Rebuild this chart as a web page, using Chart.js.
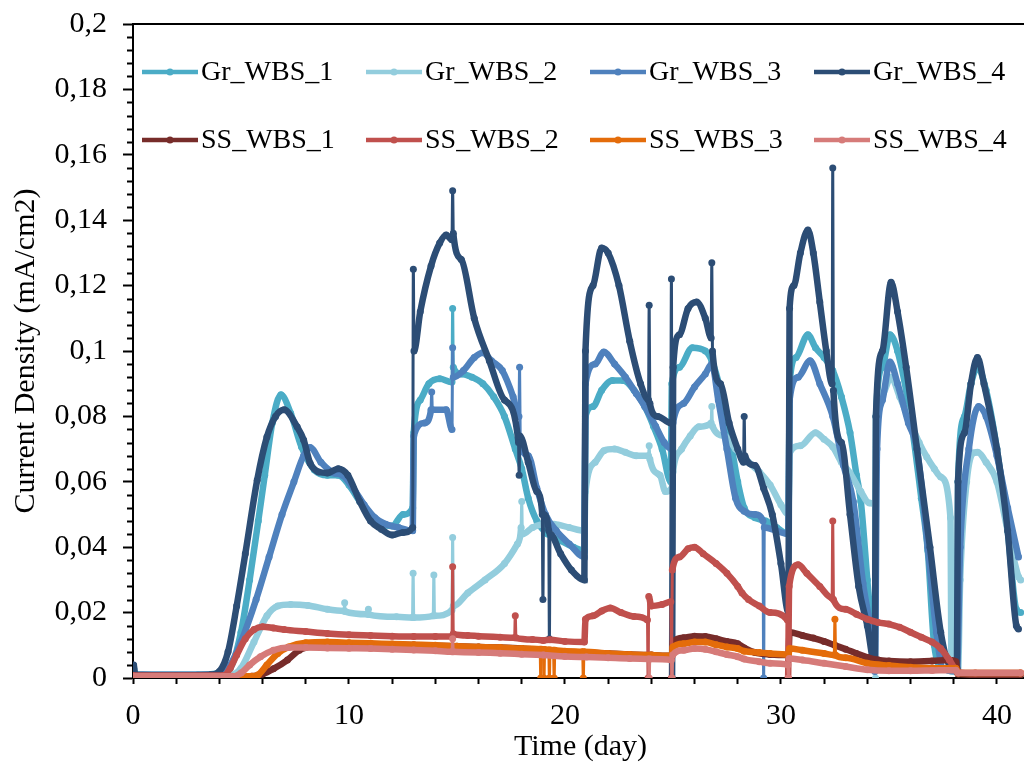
<!DOCTYPE html>
<html>
<head>
<meta charset="utf-8">
<script src="https://cdn.jsdelivr.net/npm/chart.js@4.4.1/dist/chart.umd.min.js"></script>
<style>
  html, body { margin: 0; background: #fff; overflow: hidden; }
  #wrap { width: 1032px; height: 769px; }
</style>
</head>
<body>
<div id="wrap"><canvas id="mycanvas" width="1032" height="769"></canvas></div>
<script>
// series names and colours
var seriesNames = ['Gr_WBS_1', 'Gr_WBS_2', 'Gr_WBS_3', 'Gr_WBS_4', 'SS_WBS_1', 'SS_WBS_2', 'SS_WBS_3', 'SS_WBS_4'];
var seriesColors = ['#4BACC6', '#93CDDD', '#4F81BD', '#2C4D75', '#772C2A', '#C0504D', '#E46C0A', '#D67B79'];

// [day, mA/cm2]
var grWbs1 = [[0,0.001],[0.03,0.003],[0.1,0.001],[3,0.001],[4,0.0015],[4.5,0.003],[5.0,0.014],[5.4,0.03],[5.8,0.048],[6.1,0.062],[6.45,0.078],[6.85,0.0866],[7.3,0.081],[7.8,0.0707],[8.4,0.0636],[9.0,0.062],[9.5,0.062],[10.0,0.059],[10.5,0.054],[11.0,0.05],[11.5,0.047],[12.0,0.0465],[12.5,0.05],[12.95,0.052],[13.0,0.075],[13.3,0.085],[13.7,0.09],[14.2,0.0915],[14.77,0.0905],[14.8,0.113],[14.83,0.095],[15.2,0.093],[15.7,0.092],[16.2,0.09],[16.7,0.086],[17.2,0.08],[17.7,0.07],[18.0,0.064],[18.3,0.055],[18.7,0.048],[19.2,0.044],[19.8,0.042],[20.4,0.04],[20.9,0.039],[20.95,0.08],[21.3,0.083],[21.7,0.088],[22.2,0.091],[22.7,0.091],[23.2,0.088],[23.7,0.083],[24.1,0.077],[24.5,0.07],[24.9,0.06],[24.95,0.09],[25.3,0.095],[25.9,0.101],[26.5,0.1],[26.8,0.097],[27.2,0.088],[27.6,0.075],[28.0,0.06],[28.3,0.052],[28.8,0.049],[29.3,0.048],[29.8,0.046],[30.35,0.044],[30.4,0.09],[30.7,0.098],[31.25,0.105],[31.6,0.101],[32.0,0.098],[32.4,0.094],[32.8,0.086],[33.2,0.075],[33.5,0.062],[33.7,0.054],[34.0,0.03],[34.2,0.014],[34.35,0.003],[34.4,0.08],[34.7,0.095],[35.05,0.105],[35.4,0.1],[36.0,0.08],[36.5,0.055],[36.8,0.039],[37.1,0.01],[37.5,0.003],[38.15,0.002],[38.2,0.06],[38.5,0.08],[38.8,0.09],[39.1,0.095],[39.5,0.088],[40.0,0.07],[40.5,0.045],[40.9,0.021],[41.1,0.02]];
var grWbs2 = [[0,0.001],[4.5,0.001],[5.0,0.003],[5.6,0.011],[6.2,0.019],[6.7,0.022],[7.3,0.0225],[8.1,0.0222],[9.0,0.021],[9.77,0.0205],[9.8,0.023],[9.83,0.0203],[10.87,0.0195],[10.9,0.021],[10.93,0.0194],[12.2,0.0187],[12.94,0.0185],[12.97,0.032],[13.0,0.0185],[13.9,0.019],[13.93,0.0315],[13.96,0.019],[14.77,0.0208],[14.8,0.043],[14.83,0.022],[15.5,0.026],[16.3,0.03],[17.2,0.035],[17.8,0.041],[17.97,0.046],[18.0,0.054],[18.03,0.044],[18.5,0.046],[19.0,0.047],[19.5,0.047],[20.2,0.046],[20.9,0.045],[20.95,0.057],[21.4,0.066],[21.8,0.0695],[22.3,0.07],[22.8,0.069],[23.3,0.068],[23.87,0.068],[23.9,0.071],[23.93,0.067],[24.4,0.062],[24.65,0.057],[24.95,0.058],[25.0,0.063],[25.4,0.07],[25.8,0.074],[26.2,0.0768],[26.77,0.078],[26.8,0.083],[26.83,0.077],[27.4,0.074],[27.9,0.07],[28.5,0.066],[29.0,0.063],[29.5,0.059],[30.0,0.053],[30.35,0.05],[30.4,0.0688],[30.9,0.071],[31.6,0.075],[32.0,0.073],[32.4,0.0707],[32.8,0.066],[33.2,0.0627],[33.7,0.057],[34.1,0.0535],[34.35,0.053],[34.38,0.0],[34.41,0.08],[34.7,0.087],[35.1,0.092],[35.5,0.086],[36.0,0.078],[36.4,0.072],[36.75,0.0676],[37.1,0.064],[37.4,0.0615],[37.85,0.049],[37.9,0.002],[38.2,0.002],[38.3,0.03],[38.6,0.06],[38.9,0.0688],[39.1,0.069],[39.5,0.066],[40.0,0.06],[40.5,0.045],[41.0,0.031],[41.1,0.03]];
var grWbs3 = [[0,0.001],[4,0.001],[4.5,0.004],[5.0,0.011],[5.7,0.024],[6.3,0.037],[6.9,0.05],[7.45,0.06],[7.9,0.068],[8.2,0.0705],[8.7,0.066],[9.3,0.0627],[9.7,0.062],[10.2,0.058],[10.7,0.053],[11.2,0.049],[11.7,0.047],[12.3,0.046],[12.95,0.045],[13.0,0.074],[13.5,0.078],[13.8,0.082],[13.83,0.0875],[13.86,0.082],[14.5,0.082],[14.77,0.076],[14.8,0.101],[14.83,0.092],[15.3,0.094],[15.8,0.098],[16.2,0.0995],[16.6,0.097],[17.1,0.094],[17.6,0.086],[17.87,0.08],[17.9,0.095],[17.93,0.072],[18.3,0.068],[18.7,0.058],[19.1,0.05],[19.6,0.045],[20.2,0.041],[20.9,0.037],[20.95,0.09],[21.4,0.096],[21.8,0.0997],[22.3,0.096],[22.8,0.092],[23.3,0.087],[23.7,0.083],[24.2,0.077],[24.6,0.072],[24.95,0.07],[25.0,0.078],[25.5,0.084],[26.0,0.089],[26.5,0.093],[26.8,0.096],[27.1,0.085],[27.5,0.07],[27.9,0.055],[28.3,0.051],[28.8,0.05],[29.17,0.048],[29.2,0.0],[29.23,0.046],[29.8,0.045],[30.35,0.044],[30.4,0.085],[30.8,0.092],[31.35,0.097],[31.8,0.09],[32.4,0.08],[32.9,0.065],[33.35,0.054],[33.8,0.029],[34.2,0.0125],[34.35,0.002],[34.45,0.07],[34.7,0.085],[35.05,0.0966],[35.4,0.09],[35.9,0.078],[36.3,0.07],[36.8,0.04],[37.2,0.014],[37.5,0.003],[38.15,0.002],[38.3,0.04],[38.7,0.07],[39.15,0.083],[39.5,0.08],[40.0,0.068],[40.5,0.052],[41.0,0.037]];
var grWbs4 = [[0,0.001],[0.03,0.004],[0.1,0.001],[2,0.0008],[3.6,0.001],[4.0,0.002],[4.4,0.008],[4.8,0.022],[5.2,0.038],[5.75,0.0605],[6.2,0.0737],[6.6,0.08],[7.0,0.082],[7.6,0.0768],[7.9,0.0728],[8.2,0.0657],[8.6,0.063],[9.0,0.0627],[9.5,0.064],[9.95,0.062],[10.5,0.054],[11.0,0.048],[11.5,0.0455],[12.0,0.0437],[12.5,0.0445],[12.95,0.046],[12.98,0.125],[13.01,0.1],[13.3,0.112],[13.8,0.126],[14.2,0.133],[14.5,0.1355],[14.77,0.134],[14.8,0.149],[14.83,0.136],[15.2,0.128],[15.8,0.11],[16.5,0.097],[17.2,0.085],[17.85,0.072],[17.88,0.062],[17.91,0.074],[18.3,0.066],[18.7,0.057],[18.95,0.05],[18.98,0.024],[19.01,0.05],[19.25,0.045],[19.28,0.012],[19.31,0.044],[19.8,0.038],[20.3,0.033],[20.9,0.03],[20.95,0.1],[21.3,0.12],[21.7,0.1315],[22.0,0.13],[22.5,0.12],[23.0,0.103],[23.5,0.09],[23.87,0.085],[23.9,0.114],[23.93,0.084],[24.3,0.08],[24.9,0.078],[24.93,0.122],[24.96,0.0],[25.01,0.095],[25.3,0.105],[25.7,0.113],[26.1,0.115],[26.5,0.11],[26.77,0.104],[26.8,0.127],[26.83,0.1],[27.2,0.09],[27.6,0.078],[28.0,0.07],[28.27,0.066],[28.3,0.08],[28.33,0.068],[28.8,0.065],[29.2,0.058],[29.6,0.05],[30.0,0.035],[30.35,0.02],[30.4,0.113],[30.6,0.12],[30.9,0.13],[31.25,0.137],[31.5,0.13],[31.8,0.115],[32.1,0.1],[32.37,0.09],[32.4,0.156],[32.43,0.088],[32.8,0.072],[33.2,0.05],[33.6,0.028],[34.0,0.016],[34.35,0.004],[34.4,0.08],[34.7,0.1],[35.1,0.121],[35.4,0.112],[35.8,0.095],[36.3,0.07],[36.9,0.04],[37.4,0.014],[37.8,0.004],[38.15,0.003],[38.2,0.06],[38.5,0.075],[38.8,0.09],[39.1,0.098],[39.4,0.09],[40.0,0.07],[40.5,0.045],[40.9,0.016],[41.0,0.015]];
var ssWbs1 = [[0,0.0005],[5.5,0.0005],[6.0,0.0012],[6.5,0.0028],[7.15,0.0055],[7.7,0.0085],[8.3,0.0098],[9.0,0.0104],[10.0,0.0105],[11.0,0.0103],[12.0,0.0102],[13.0,0.0101],[14.0,0.0099],[15.0,0.0097],[16.0,0.0095],[17.0,0.0093],[18.0,0.009],[19.0,0.0085],[20.0,0.008],[21.0,0.0078],[22.0,0.0075],[23.0,0.0072],[24.0,0.007],[24.95,0.0068],[25.0,0.011],[25.5,0.0123],[26.0,0.0128],[26.5,0.0127],[27.0,0.012],[27.5,0.0112],[28.0,0.0105],[28.3,0.0092],[28.8,0.0078],[29.5,0.0072],[30.35,0.007],[30.4,0.014],[31.0,0.013],[31.5,0.0122],[32.0,0.0112],[32.5,0.01],[33.0,0.0088],[33.5,0.0075],[34.0,0.0063],[34.5,0.0055],[35.0,0.0052],[36.0,0.005],[37.0,0.0052],[37.8,0.0055],[38.1,0.005],[38.2,0.0012],[39.0,0.001],[41.1,0.001]];
var ssWbs2 = [[0,0.0008],[4.2,0.0008],[4.5,0.003],[4.8,0.007],[5.2,0.012],[5.6,0.0148],[6.0,0.0157],[6.5,0.0153],[7,0.0148],[8,0.0142],[9,0.0136],[10,0.0132],[11,0.013],[12,0.0128],[13,0.0127],[14,0.0127],[14.77,0.0127],[14.8,0.034],[14.83,0.0135],[15.5,0.013],[16,0.0128],[17,0.0125],[17.67,0.0123],[17.7,0.019],[17.73,0.0123],[18.5,0.0118],[19.0,0.0115],[19.3,0.0117],[20,0.0112],[20.9,0.011],[20.95,0.018],[21.3,0.019],[21.7,0.0205],[22.1,0.0214],[22.6,0.02],[23.2,0.0188],[23.82,0.0177],[23.85,0.0],[23.88,0.0249],[24.0,0.022],[24.5,0.0225],[24.9,0.0233],[24.93,0.0],[24.97,0.033],[25.3,0.037],[25.7,0.0395],[26.0,0.04],[26.4,0.038],[27.0,0.035],[27.5,0.032],[28.0,0.028],[28.2,0.026],[28.5,0.024],[29.0,0.022],[29.5,0.02],[30.3,0.0177],[30.33,0.0],[30.38,0.028],[30.8,0.0346],[31.2,0.032],[31.8,0.028],[32.37,0.0245],[32.4,0.048],[32.43,0.024],[33,0.021],[33.5,0.0195],[34,0.018],[34.5,0.017],[35,0.0165],[35.5,0.0155],[36,0.014],[36.5,0.0125],[37,0.011],[37.4,0.009],[37.8,0.0055],[38.2,0.0018],[39,0.0015],[41.1,0.0015]];
var ssWbs3 = [[0,0.0005],[5.5,0.0005],[5.8,0.001],[6.2,0.004],[6.7,0.0075],[7.2,0.0095],[8.0,0.0108],[9,0.011],[10,0.0108],[11,0.0106],[12,0.0104],[13,0.0102],[14,0.01],[15,0.0097],[16,0.0095],[17,0.0093],[18,0.009],[18.85,0.0088],[18.88,0.0],[18.91,0.0088],[19.0,0.0087],[19.03,0.0],[19.06,0.0087],[19.25,0.0086],[19.28,0.0],[19.31,0.0086],[19.47,0.0085],[19.5,0.0],[19.53,0.0085],[20,0.0082],[20.82,0.008],[20.85,0.0],[20.88,0.008],[22,0.0075],[23,0.0072],[24,0.007],[24.95,0.0068],[25.0,0.0095],[25.5,0.0105],[26,0.011],[26.5,0.011],[27,0.0102],[27.5,0.0095],[28,0.009],[28.3,0.0082],[29,0.0078],[29.5,0.0075],[30.35,0.0072],[30.4,0.009],[31,0.0085],[32,0.0075],[32.47,0.007],[32.5,0.018],[32.53,0.007],[33,0.0062],[34,0.0045],[35,0.0038],[36,0.0033],[37,0.003],[38.1,0.003],[38.2,0.0015],[41.1,0.0015]];
var ssWbs4 = [[0,0.0005],[4.6,0.0005],[5.0,0.0015],[5.4,0.004],[5.9,0.0065],[6.5,0.0085],[7.2,0.0093],[8.0,0.0093],[9,0.0092],[10,0.0091],[11,0.009],[12,0.0088],[13,0.0086],[14,0.0083],[14.77,0.008],[14.8,0.012],[14.83,0.008],[16,0.0078],[17,0.0076],[18,0.0073],[19,0.007],[20,0.0066],[21,0.0064],[22,0.0062],[23,0.006],[23.87,0.0058],[23.9,0.0],[23.93,0.0058],[24.93,0.0055],[24.96,0.0],[24.99,0.007],[25.5,0.0085],[26,0.009],[26.5,0.0088],[27,0.008],[27.5,0.0072],[28,0.0065],[28.3,0.0058],[29,0.005],[29.5,0.0045],[30.32,0.004],[30.35,0.0],[30.38,0.006],[31,0.0055],[32,0.0045],[33,0.0035],[34,0.0025],[35,0.0022],[36,0.0022],[37,0.0023],[38.1,0.0024],[38.2,0.0015],[41.1,0.0015]];

var allSeries = [grWbs1, grWbs2, grWbs3, grWbs4, ssWbs1, ssWbs2, ssWbs3, ssWbs4];

var xTickLabels = [0, 10, 20, 30, 40];
var yTickLabels = [0, 0.02, 0.04, 0.06, 0.08, 0.1, 0.12, 0.14, 0.16, 0.18, 0.2];

var serif = '"Liberation Serif", "Times New Roman", serif';
Chart.defaults.font.family = serif;
Chart.defaults.color = '#000';

function fmt(v) {
	return String(+v.toFixed(3)).replace('.', ',');
}

var datasets = [];
for (var i = 0; i < allSeries.length; i++) {
	datasets.push({
		label: seriesNames[i],
		data: allSeries[i].map(function(p) { return {x: p[0], y: p[1]}; }),
		borderColor: seriesColors[i],
		backgroundColor: seriesColors[i],
		borderWidth: 6.5,
		pointRadius: 3.5,
		pointBorderWidth: 0,
		cubicInterpolationMode: 'monotone',
		order: allSeries.length - 1 - i,
		segment: {
			// single-point spikes are drawn thinner, like the original
			borderWidth: function(ctx) {
				return Math.abs(ctx.p1.parsed.x - ctx.p0.parsed.x) < 0.045 ? 3 : 6.5;
			}
		}
	});
}

// legend, minor ticks and top frame line
var extras = {
	id: 'extras',
	afterDraw: function(chart) {
		var c = chart.ctx;
		var a = chart.chartArea;
		var ys = chart.scales.y;
		c.save();
		c.strokeStyle = '#000';
		c.lineWidth = 2;
		c.beginPath();
		c.moveTo(a.left - 1, a.top);
		c.lineTo(a.right, a.top);
		for (var k = 0; k <= 50; k++) {
			if (k % 5 === 0) continue;
			var py = Math.round(ys.getPixelForValue(k * 0.004)) + 0.5;
			c.moveTo(a.left - 6, py);
			c.lineTo(a.left, py);
		}
		c.stroke();

		c.font = '28px ' + serif;
		c.textBaseline = 'middle';
		c.textAlign = 'left';
		for (var n = 0; n < seriesNames.length; n++) {
			var col = n % 4, row = Math.floor(n / 4);
			var x0 = a.left + 9 + col * 224;
			var y0 = a.top + 48 + row * 68;
			c.strokeStyle = seriesColors[n];
			c.fillStyle = seriesColors[n];
			c.lineWidth = 4.5;
			c.beginPath();
			c.moveTo(x0, y0);
			c.lineTo(x0 + 56, y0);
			c.stroke();
			c.beginPath();
			c.arc(x0 + 28, y0, 3.5, 0, Math.PI * 2);
			c.fill();
			c.fillStyle = '#000';
			c.fillText(seriesNames[n], x0 + 59, y0 + 1);
		}
		c.restore();
	}
};

var ctx = document.getElementById('mycanvas');
var chart = new Chart(ctx, {
	type: 'line',
	data: {datasets: datasets},
	options: {
		responsive: false,
		animation: false,
		layout: {padding: {top: 24, right: 0, left: 0, bottom: 0}},
		plugins: {
			legend: {display: false},
			tooltip: {enabled: false}
		},
		scales: {
			x: {
				type: 'linear',
				min: 0,
				max: 41.44,
				grid: {drawOnChartArea: false, tickLength: 6, tickColor: '#000', tickWidth: 2},
				border: {color: '#000', width: 2},
				ticks: {
					stepSize: 2,
					includeBounds: false,
					autoSkip: false,
					maxRotation: 0,
					padding: 14,
					font: {size: 30},
					callback: function(v) {
						return xTickLabels.indexOf(v) >= 0 ? String(v) : '';
					}
				},
				title: {display: true, text: 'Time (day)', font: {size: 30}, padding: {top: 0, bottom: 4}},
				afterFit: function(s) { s.height = 91; s.paddingLeft = 0; s.paddingRight = 0; }
			},
			y: {
				min: 0,
				max: 0.2,
				grid: {drawOnChartArea: false, tickLength: 10, tickColor: '#000', tickWidth: 2},
				border: {color: '#000', width: 2},
				ticks: {
					stepSize: 0.02,
					autoSkip: false,
					padding: 16,
					font: {size: 30},
					callback: function(v) {
						for (var j = 0; j < yTickLabels.length; j++) {
							if (Math.abs(yTickLabels[j] - v) < 1e-6) return fmt(yTickLabels[j]);
						}
						return '';
					}
				},
				title: {display: true, text: 'Current Density (mA/cm2)', font: {size: 30}, padding: {top: 8, bottom: 0}},
				afterFit: function(s) { s.width = 133; s.paddingTop = 0; s.paddingBottom = 0; }
			}
		}
	},
	plugins: [extras]
});
</script>
</body>
</html>
